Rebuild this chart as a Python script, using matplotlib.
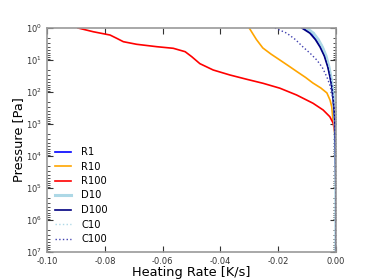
import numpy as np
import matplotlib
matplotlib.use("Agg")
import matplotlib.pyplot as plt
from matplotlib.ticker import FormatStrFormatter

# pressure levels [Pa] and heating rates [K/s]
p_r100 = [1.0, 1.31, 1.66, 2.10, 2.68, 3.23, 3.84, 4.31, 5.5, 7.9, 13, 20.5, 29.4, 40, 53.5, 76, 124, 225, 365, 590,
          950, 1950, 1e4, 1e5, 1e6, 1e7]
hr_r100 = [-0.0893, -0.0840, -0.0782, -0.0759, -0.0736, -0.0690, -0.0620, -0.0563, -0.0522, -0.0499, -0.0471, -0.0425,
           -0.0367, -0.0309, -0.0252, -0.0194, -0.0136, -0.0079, -0.0044, -0.0021, -0.0009, -0.0003, -0.0001, 0.0, 0.0, 0.0]

p_r10 = [1.0, 1.4, 2.3, 4.2, 6.5, 10, 15, 23, 35, 52, 75, 107, 180, 295, 750, 2000, 1e4, 1e5, 1e6, 1e7]
hr_r10 = [-0.0300, -0.0290, -0.0275, -0.0253, -0.0225, -0.0194, -0.0165, -0.0135, -0.0105, -0.0080, -0.0052, -0.0031,
          -0.0020, -0.0014, -0.0010, -0.0004, -0.0001, 0.0, 0.0, 0.0]

p_c100 = [1.0, 1.45, 2.3, 3.9, 6.3, 10, 17, 34, 60, 107, 295, 1000, 1e4, 1e5, 1e6, 1e7]
hr_c100 = [-0.0211, -0.0170, -0.0140, -0.0114, -0.0088, -0.0066, -0.0047, -0.0031, -0.0021, -0.0014, -0.0007, -0.0003,
           -0.0001, 0.0, 0.0, 0.0]

p_d100 = [1.0, 1.45, 2.3, 3.9, 7.5, 16.5, 35, 69, 150, 295, 1000, 1e4, 1e5, 1e6, 1e7]
hr_d100 = [-0.0118, -0.0090, -0.0071, -0.0055, -0.0040, -0.0028, -0.0020, -0.0014, -0.0010, -0.0007, -0.0003, -0.0001,
           0.0, 0.0, 0.0]

p_d10 = [1.0, 1.45, 2.3, 3.9, 7.5, 16.5, 35, 69, 150, 295, 1000, 1e4, 1e5, 1e6, 1e7]
hr_d10 = [-0.0102, -0.0078, -0.0061, -0.0047, -0.0034, -0.0024, -0.0017, -0.0012, -0.0008, -0.0006, -0.0003, -0.0001,
          0.0, 0.0, 0.0]

p_r1 = [1.0, 1.45, 2.3, 3.9, 7.5, 16.5, 35, 69, 150, 295, 1000, 1e4, 1e5, 1e6, 1e7]
hr_r1 = [-0.0112, -0.0086, -0.0067, -0.0052, -0.0038, -0.0026, -0.0019, -0.0013, -0.0009, -0.0006, -0.0003, -0.0001,
         0.0, 0.0, 0.0]

p_c10 = [1.0, 1.45, 2.3, 3.9, 7.5, 16.5, 35, 69, 150, 295, 1000, 1e4, 1e5, 1e6, 1e7]
hr_c10 = [-0.0098, -0.0075, -0.0059, -0.0045, -0.0033, -0.0023, -0.0016, -0.0011, -0.0008, -0.0005, -0.0002, -0.0001,
          0.0, 0.0, 0.0]

fig = plt.figure(figsize=(3.74, 2.8), dpi=100)
ax = fig.add_axes([0.126, 0.1, 0.772, 0.8])

ax.plot(hr_r1, p_r1, color="blue", lw=1.2, label="R1")
ax.plot(hr_r10, p_r10, color="orange", lw=1.2, label="R10")
ax.plot(hr_r100, p_r100, color="red", lw=1.2, label="R100")
ax.plot(hr_d10, p_d10, color="lightblue", lw=2.2, label="D10")
ax.plot(hr_d100, p_d100, color="navy", lw=1.2, label="D100")
ax.plot(hr_c10, p_c10, color="lightblue", lw=1.0, ls=":", label="C10")
ax.plot(hr_c100, p_c100, color="#4040b0", lw=1.0, ls=":", label="C100")

ax.set_yscale("log")
ax.set_ylim(1e7, 1e0)
ax.set_xlim(-0.10, 0.0)
ax.set_xticks([-0.10, -0.08, -0.06, -0.04, -0.02, 0.00])
ax.xaxis.set_major_formatter(FormatStrFormatter("%.2f"))

ax.tick_params(which="both", direction="in", top=True, right=True, labelsize=6, colors="#333333")
ax.tick_params(which="major", length=4)
ax.tick_params(which="minor", length=2)
for s in ax.spines.values():
    s.set_color("#999999")
    s.set_linewidth(1.2)

ax.set_xlabel("Heating Rate [K/s]", fontsize=9.3, labelpad=0)
ax.set_ylabel("Pressure [Pa]", fontsize=9.3, labelpad=1)

ax.legend(loc="lower left", frameon=False, fontsize=7.2, handlelength=1.6, labelspacing=0.45,
          handletextpad=1.0, borderaxespad=0.4, bbox_to_anchor=(0.0, 0.0))

fig.savefig("out.png", dpi=100)
